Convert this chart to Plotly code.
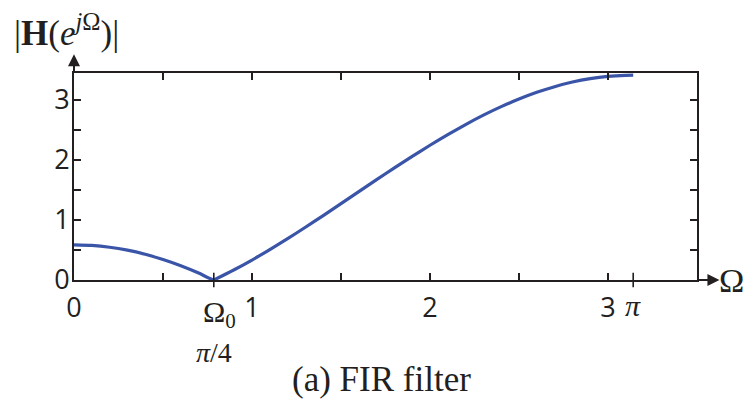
"""FIR filter magnitude response |H(e^jΩ)| with a zero at Ω0 = π/4."""

import math

import plotly.graph_objects as go

# Frequency samples (rad) and magnitude
omega = [0.0, 0.1, 0.2, 0.3, 0.4, 0.5, 0.6, 0.7, 0.7854, 0.8, 0.9, 1.0,
         1.1, 1.2, 1.3, 1.4, 1.5, 1.6, 1.7, 1.8, 1.9, 2.0, 2.1, 2.2, 2.3,
         2.4, 2.5, 2.6, 2.7, 2.8, 2.9, 3.0, 3.1, 3.1416]
magnitude = [0.586, 0.576, 0.546, 0.497, 0.428, 0.341, 0.237, 0.116, 0.0,
             0.021, 0.171, 0.333, 0.507, 0.689, 0.879, 1.074, 1.273, 1.473,
             1.672, 1.869, 2.061, 2.246, 2.424, 2.591, 2.747, 2.889, 3.016,
             3.128, 3.222, 3.299, 3.356, 3.394, 3.412, 3.414]

x_tickvals = [0, 0.5, 1, 1.5, 2, 2.5, 3]
x_ticktext = ["0", "", "1", "", "2", "", "3"]
y_tickvals = [0, 0.5, 1, 1.5, 2, 2.5, 3]
y_ticktext = ["0", "", "1", "", "2", "", "3"]

# special marks on the frequency axis
omega0 = math.pi / 4
special_x = [omega0, math.pi]

BLUE = "#3a55a8"
INK = "#231f20"
SANS = "Open Sans, Liberation Sans, Arial, sans-serif"
SERIF = "Liberation Serif, Times New Roman, serif"

fig = go.Figure()

fig.add_trace(
    go.Scatter(
        x=omega,
        y=magnitude,
        mode="lines",
        line=dict(color=BLUE, width=3.2, shape="spline", smoothing=0.6),
        showlegend=False,
        hoverinfo="skip",
    )
)

axis_common = dict(
    showline=True,
    linecolor=INK,
    linewidth=2,
    mirror="allticks",
    ticks="inside",
    ticklen=7,
    tickwidth=1.6,
    tickcolor=INK,
    showgrid=False,
    zeroline=False,
    automargin=False,
    tickfont=dict(family=SANS, size=27, color=INK),
)

fig.update_xaxes(
    range=[0, 3.5],
    tickmode="array",
    tickvals=x_tickvals,
    ticktext=x_ticktext,
    ticklabelstandoff=3,
    **axis_common,
)
fig.update_yaxes(
    range=[0, 3.45],
    tickmode="array",
    tickvals=y_tickvals,
    ticktext=y_ticktext,
    ticklabelstandoff=-3,
    **axis_common,
)

# ticks at Ω0 and π cross the axis line
for xv in special_x:
    fig.add_shape(
        type="line", xref="x", yref="paper",
        x0=xv, x1=xv, y0=-0.035, y1=0.035,
        line=dict(color=INK, width=1.6),
    )

arrow_style = dict(showarrow=True, arrowhead=2, arrowsize=1.2, arrowwidth=2,
                   arrowcolor=INK, text=" ", font=dict(size=1))

annotations = [
    # axis arrows
    dict(x=1.036, y=0, xref="paper", yref="paper", ax=-22, ay=0,
         **arrow_style),
    dict(x=0, y=1.09, xref="paper", yref="paper", ax=0, ay=19,
         **arrow_style),
    # axis names
    dict(x=1.078, y=0.0, xref="paper", yref="paper", text="Ω",
         xanchor="right", yanchor="middle", showarrow=False,
         font=dict(family=SERIF, size=34, color=INK)),
    dict(x=-0.1, y=1.205, xref="paper", yref="paper", xanchor="left",
         yanchor="middle",
         text="|<b>H</b>(<i>e</i><sup><i>j</i>Ω</sup>)|", showarrow=False,
         font=dict(family=SERIF, size=35, color=INK)),
    # frequency labels
    dict(x=omega0, y=-0.165, xref="x", yref="paper", text="Ω<sub>0</sub>",
         yanchor="middle", showarrow=False, xshift=6,
         font=dict(family=SERIF, size=30, color=INK)),
    dict(x=omega0, y=-0.352, xref="x", yref="paper", text="<i>π</i>/4",
         yanchor="middle", showarrow=False,
         font=dict(family=SERIF, size=28, color=INK)),
    dict(x=math.pi, y=-0.125, xref="x", yref="paper", text="<i>π</i>",
         yanchor="middle", showarrow=False,
         font=dict(family=SERIF, size=30, color=INK)),
    # caption
    dict(x=0.494, y=-0.483, xref="paper", yref="paper", yanchor="middle",
         text="(a) FIR filter", showarrow=False,
         font=dict(family=SERIF, size=35, color=INK)),
]

# the page body adds an 8 px offset, so the figure is 8 px smaller
fig.update_layout(
    width=746,
    height=400,
    margin=dict(l=66, r=57, t=65, b=128),
    plot_bgcolor="white",
    paper_bgcolor="white",
    annotations=annotations,
)

fig.write_html("out.html")
